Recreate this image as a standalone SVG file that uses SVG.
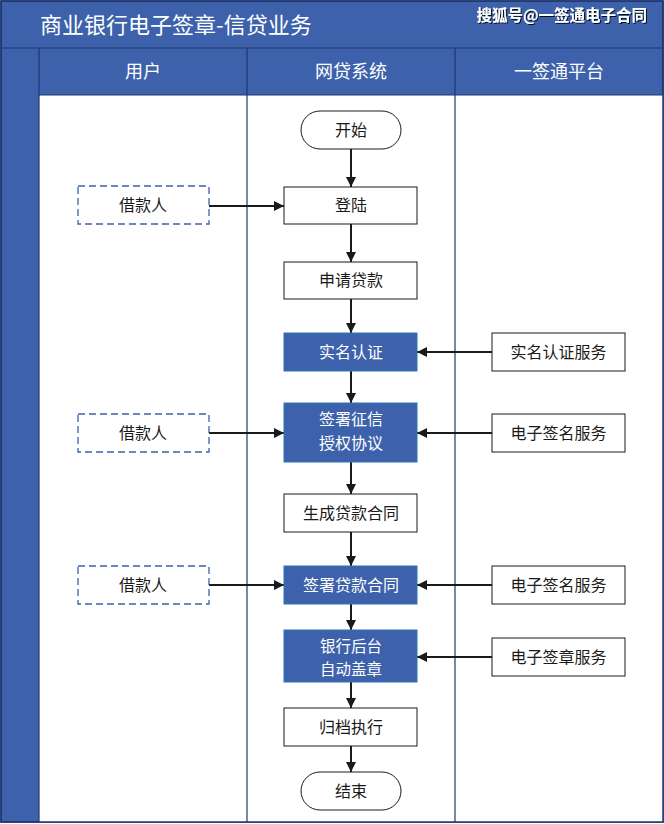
<svg xmlns="http://www.w3.org/2000/svg" width="664" height="824" viewBox="0 0 664 824">
<defs>
<marker id="ah" viewBox="0 0 10 10" refX="10" refY="5" markerWidth="5" markerHeight="5" markerUnits="strokeWidth" orient="auto">
<path d="M0,0 L10,5 L0,10 z" fill="#1a1a1a"/>
</marker>
<filter id="sh" x="-5%" y="-20%" width="110%" height="140%">
<feDropShadow dx="1" dy="1" stdDeviation="0.6" flood-color="#000" flood-opacity="0.9"/>
</filter>
</defs>
<style>
text{font-family:"Noto Sans CJK SC","Noto Sans",sans-serif;text-anchor:middle;dominant-baseline:central}
.w{fill:#fff;stroke:#1a1a1a;stroke-width:1}
.b{fill:#3d62ab;stroke:#2e75b6;stroke-width:1}
.d{fill:#fff;stroke:#3d62ab;stroke-width:1.3;stroke-dasharray:7 4}
.t{font-size:16px;fill:#1a1a1a}
.tw{font-size:16px;fill:#fff}
.tw2{font-size:15.5px;fill:#fff}
.h{font-size:18px;fill:#fff}
.c{stroke:#1a1a1a;stroke-width:2;fill:none;marker-end:url(#ah)}
.ln{stroke:#1f3770;stroke-width:1.2;fill:none}
</style>
<g id="frame">
<rect x="1" y="1" width="662" height="821" fill="#3d62ab" stroke="#1f3770" stroke-width="1.5"/>
<rect x="39" y="95" width="624" height="727" fill="#fff"/>
<line class="ln" x1="1" y1="48" x2="663" y2="48"/>
<line class="ln" x1="39" y1="48" x2="39" y2="822"/>
<line class="ln" x1="39" y1="95" x2="663" y2="95"/>
<line class="ln" x1="247" y1="48" x2="247" y2="822"/>
<line class="ln" x1="455" y1="48" x2="455" y2="822"/>
<rect x="1" y="1" width="662" height="821" fill="none" stroke="#1f3770" stroke-width="1.5"/>
<text x="40" y="23" style="font-size:22px;fill:#fff;text-anchor:start">商业银行电子签章-信贷业务</text>
<text x="647" y="14" filter="url(#sh)" style="font-size:15.5px;font-weight:bold;fill:#fff;text-anchor:end">搜狐号@一签通电子合同</text>
<text class="h" x="143" y="70">用户</text>
<text class="h" x="351" y="70">网贷系统</text>
<text class="h" x="559" y="70">一签通平台</text>
</g>
<g id="connectors">
<line class="c" x1="351" y1="149" x2="351" y2="187"/>
<line class="c" x1="351" y1="224" x2="351" y2="262"/>
<line class="c" x1="351" y1="299" x2="351" y2="333"/>
<line class="c" x1="351" y1="371" x2="351" y2="403"/>
<line class="c" x1="351" y1="462" x2="351" y2="494"/>
<line class="c" x1="351" y1="532" x2="351" y2="566"/>
<line class="c" x1="351" y1="604" x2="351" y2="630"/>
<line class="c" x1="351" y1="682" x2="351" y2="708"/>
<line class="c" x1="351" y1="746" x2="351" y2="772"/>
<line class="c" x1="209" y1="206" x2="284" y2="206"/>
<line class="c" x1="209" y1="433" x2="284" y2="433"/>
<line class="c" x1="209" y1="585" x2="284" y2="585"/>
<line class="c" x1="492" y1="352" x2="417" y2="352"/>
<line class="c" x1="492" y1="433" x2="417" y2="433"/>
<line class="c" x1="492" y1="585" x2="417" y2="585"/>
<line class="c" x1="492" y1="657" x2="417" y2="657"/>
</g>
<g id="start"><rect class="w" x="301" y="111" width="100" height="38" rx="19"/><text class="t" x="351" y="129">开始</text></g>
<g id="login"><rect class="w" x="284" y="187" width="133" height="37"/><text class="t" x="351" y="204">登陆</text></g>
<g id="apply"><rect class="w" x="284" y="262" width="133" height="37"/><text class="t" x="351" y="279">申请贷款</text></g>
<g id="realname"><rect class="b" x="284" y="333" width="133" height="38"/><text class="tw" x="351" y="350.5">实名认证</text></g>
<g id="credit"><rect class="b" x="284" y="403" width="133" height="59"/><text class="tw" x="351" y="418">签署征信</text><text class="tw" x="351" y="442">授权协议</text></g>
<g id="gencontract"><rect class="w" x="284" y="494" width="133" height="38"/><text class="t" x="351" y="512">生成贷款合同</text></g>
<g id="signcontract"><rect class="b" x="284" y="566" width="133" height="38"/><text class="tw" x="351" y="584">签署贷款合同</text></g>
<g id="autoseal"><rect class="b" x="284" y="630" width="133" height="52"/><text class="tw2" x="351" y="644.5">银行后台</text><text class="tw2" x="351" y="667.5">自动盖章</text></g>
<g id="archive"><rect class="w" x="284" y="708" width="133" height="38"/><text class="t" x="351" y="726">归档执行</text></g>
<g id="end"><rect class="w" x="301" y="772" width="100" height="38" rx="19"/><text class="t" x="351" y="790">结束</text></g>
<g id="borrower1"><rect class="d" x="78" y="186" width="131" height="38"/><text class="t" x="143" y="204">借款人</text></g>
<g id="borrower2"><rect class="d" x="78" y="414" width="131" height="38"/><text class="t" x="143" y="432">借款人</text></g>
<g id="borrower3"><rect class="d" x="78" y="566" width="131" height="38"/><text class="t" x="143" y="584">借款人</text></g>
<g id="svc-realname"><rect class="w" x="492" y="333" width="133" height="38"/><text class="t" x="558.5" y="351">实名认证服务</text></g>
<g id="svc-esign1"><rect class="w" x="492" y="414" width="133" height="38"/><text class="t" x="558.5" y="432">电子签名服务</text></g>
<g id="svc-esign2"><rect class="w" x="492" y="566" width="133" height="38"/><text class="t" x="558.5" y="584">电子签名服务</text></g>
<g id="svc-seal"><rect class="w" x="492" y="638" width="133" height="38"/><text class="t" x="558.5" y="656">电子签章服务</text></g>
</svg>
